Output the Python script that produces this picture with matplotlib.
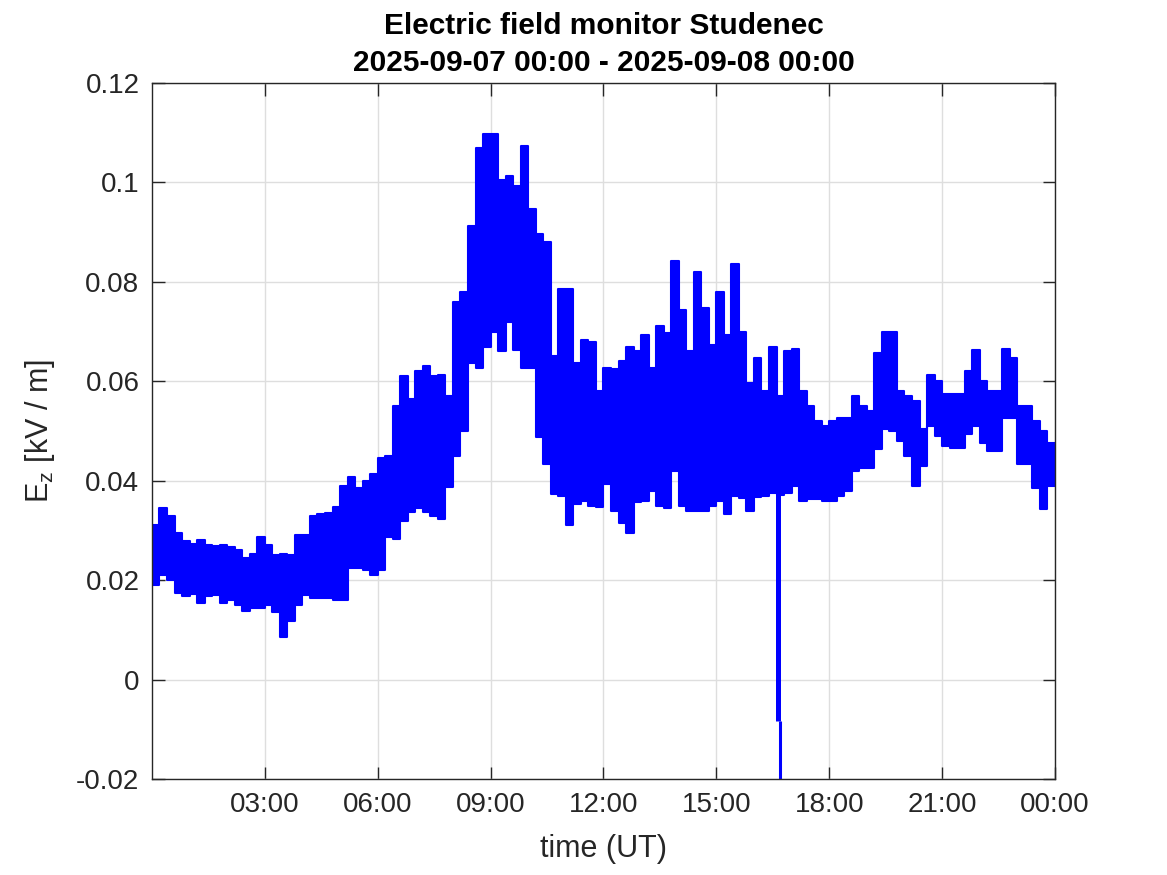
"""Electric field monitor Studenec, 2025-09-07 (Ez, kV/m)."""

import matplotlib

matplotlib.use("Agg")
import matplotlib.pyplot as plt
import numpy as np
from matplotlib.ticker import FixedLocator, FuncFormatter

plt.rcParams["font.family"] = ["Liberation Sans", "DejaVu Sans"]
plt.rcParams["mathtext.fontset"] = "custom"
plt.rcParams["mathtext.rm"] = "Liberation Sans"
plt.rcParams["mathtext.it"] = "Liberation Sans:italic"

# start of each 0.2 h bin (hours UT)
BIN_H = 0.2
t_start = np.arange(0.0, 24.0, BIN_H)

# envelope of Ez in each bin (kV/m)
ez_high = [
    0.031, 0.0345, 0.033, 0.0295, 0.0278, 0.0272, 0.028, 0.027, 0.0268, 0.027,
    0.0266, 0.026, 0.0245, 0.0252, 0.0287, 0.027, 0.025, 0.0253, 0.025, 0.029,
    0.029, 0.033, 0.0333, 0.0335, 0.0348, 0.039, 0.0408, 0.0385, 0.040, 0.0414,
    0.0445, 0.045, 0.055, 0.061, 0.0565, 0.062, 0.063, 0.061, 0.0613, 0.057,
    0.076, 0.078, 0.0912, 0.107, 0.1098, 0.1098, 0.1005, 0.1013, 0.0993, 0.1074,
    0.0946, 0.0896, 0.088, 0.065, 0.0785, 0.0785, 0.0636, 0.0683, 0.068, 0.058,
    0.0626, 0.0625, 0.064, 0.0669, 0.066, 0.0694, 0.0627, 0.0712, 0.0697, 0.0842,
    0.0744, 0.066, 0.082, 0.0748, 0.0674, 0.078, 0.0694, 0.0835, 0.070, 0.0596,
    0.0647, 0.058, 0.067, 0.057, 0.066, 0.0664, 0.058, 0.055, 0.052, 0.051,
    0.052, 0.0527, 0.0527, 0.057, 0.055, 0.054, 0.0656, 0.0699, 0.0699, 0.058,
    0.057, 0.056, 0.0505, 0.0613, 0.060, 0.0575, 0.0575, 0.0575, 0.062, 0.0663,
    0.060, 0.058, 0.058, 0.0664, 0.0646, 0.055, 0.055, 0.052, 0.050, 0.0476,
]
ez_low = [
    0.019, 0.021, 0.020, 0.0175, 0.0168, 0.0172, 0.0155, 0.0168, 0.017, 0.0155,
    0.016, 0.015, 0.0138, 0.0145, 0.0145, 0.015, 0.0135, 0.0085, 0.0118, 0.015,
    0.017, 0.0165, 0.0165, 0.0165, 0.016, 0.016, 0.0225, 0.0225, 0.022, 0.021,
    0.022, 0.0286, 0.0283, 0.032, 0.0337, 0.0345, 0.0337, 0.033, 0.0323, 0.0387,
    0.045, 0.050, 0.0636, 0.0626, 0.067, 0.070, 0.066, 0.072, 0.0663, 0.0626,
    0.0626, 0.0488, 0.0434, 0.0374, 0.037, 0.031, 0.0353, 0.036, 0.035, 0.0347,
    0.0394, 0.034, 0.0315, 0.0295, 0.0358, 0.036, 0.038, 0.035, 0.0345, 0.042,
    0.035, 0.034, 0.034, 0.034, 0.035, 0.036, 0.0334, 0.037, 0.0365, 0.034,
    0.0368, 0.037, 0.0375, 0.0372, 0.0375, 0.039, 0.036, 0.0363, 0.0363, 0.036,
    0.036, 0.037, 0.038, 0.042, 0.0425, 0.0425, 0.0463, 0.0505, 0.050, 0.048,
    0.045, 0.039, 0.043, 0.051, 0.049, 0.047, 0.0465, 0.0465, 0.0495, 0.051,
    0.0476, 0.046, 0.046, 0.0526, 0.0526, 0.0433, 0.0433, 0.0386, 0.0343, 0.039,
]

# single negative excursion near 16:40 UT (two samples)
spike_t = [16.64, 16.68]
spike_ez = [-0.0083, -0.0199]

x_ticks = [3, 6, 9, 12, 15, 18, 21, 24]
x_labels = ["03:00", "06:00", "09:00", "12:00", "15:00", "18:00", "21:00", "00:00"]
y_ticks = [-0.02, 0.0, 0.02, 0.04, 0.06, 0.08, 0.10, 0.12]

# bin edges for the stepped band
t_edges = np.append(t_start, 24.0)
lo = np.append(ez_low, ez_low[-1])
hi = np.append(ez_high, ez_high[-1])

fig = plt.figure(figsize=(11.67, 8.75), dpi=100)
ax = fig.add_axes([0.1302, 0.1097, 0.7738, 0.7954])

ax.fill_between(t_edges, lo, hi, step="post", facecolor="#0000ff",
                edgecolor="#0000ff", linewidth=1.5)
ax.vlines(spike_t[0], spike_ez[0], 0.038, color="#0000ff", linewidth=3.6)
ax.vlines(spike_t[1], spike_ez[1], spike_ez[0], color="#0000ff", linewidth=2.2)

ax.set_xlim(0, 24)
ax.set_ylim(-0.02, 0.12)
ax.xaxis.set_major_locator(FixedLocator(x_ticks))
ax.set_xticklabels(x_labels)
ax.yaxis.set_major_locator(FixedLocator(y_ticks))
ax.yaxis.set_major_formatter(FuncFormatter(lambda v, _: f"{v:g}"))

ax.grid(True, color="#dedede", linewidth=1.0)
ax.set_axisbelow(True)
ax.tick_params(direction="in", length=9, width=1.0, colors="#262626",
               labelsize=20, top=True, right=True, pad=9)
for tl in ax.get_xticklabels() + ax.get_yticklabels():
    tl.set_color("#262626")
for sp in ax.spines.values():
    sp.set_color("#262626")
    sp.set_linewidth(1.0)

ax.set_xlabel("time (UT)", fontsize=22, color="#262626", labelpad=12)
ax.set_ylabel(r"E$_\mathrm{z}$ [kV / m]", fontsize=22, color="#262626", labelpad=14)
ax.set_title("Electric field monitor Studenec\n2025-09-07 00:00 - 2025-09-08 00:00",
             fontsize=21.5, fontweight="bold", pad=9, linespacing=1.4)

fig.savefig("out.png", dpi=100)
